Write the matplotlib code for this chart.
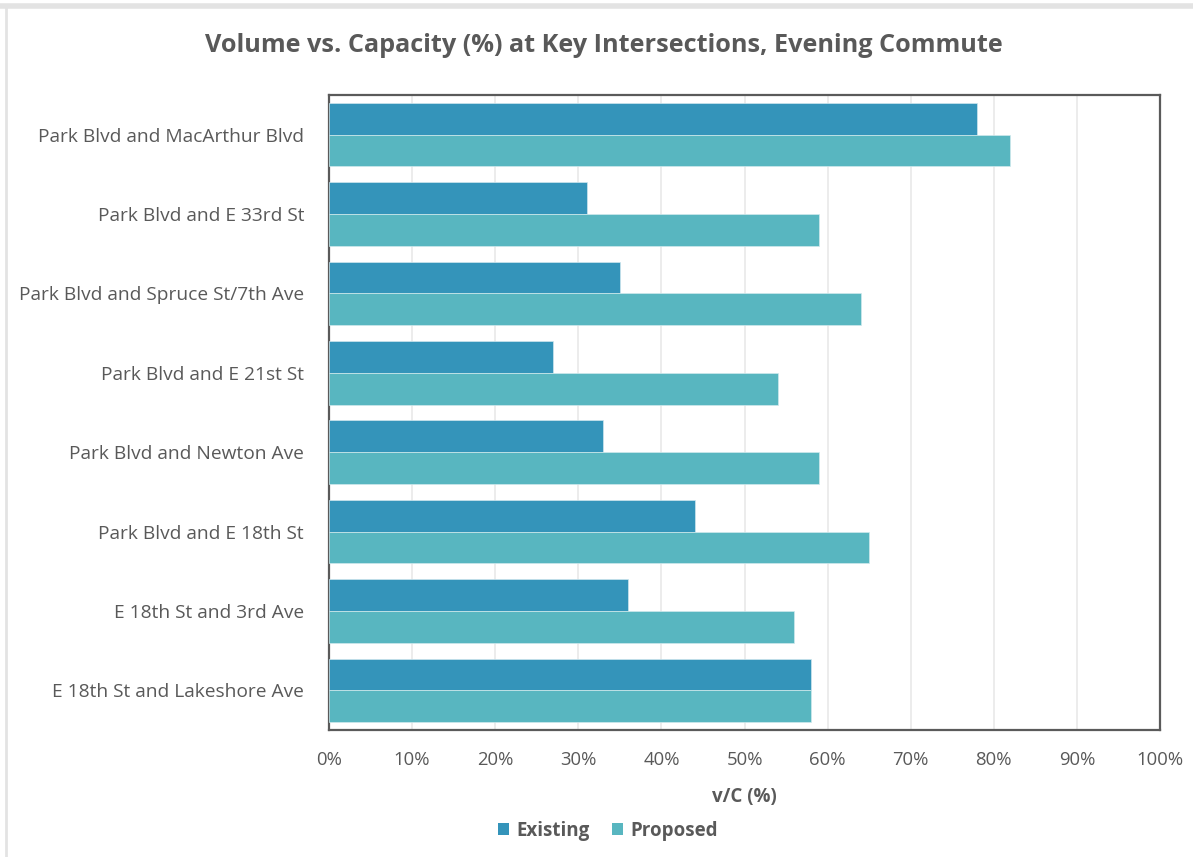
import matplotlib
matplotlib.use("Agg")
import matplotlib.pyplot as plt
from matplotlib.lines import Line2D
from matplotlib.patches import Patch
import numpy as np

categories = [
    "Park Blvd and MacArthur Blvd",
    "Park Blvd and E 33rd St",
    "Park Blvd and Spruce St/7th Ave",
    "Park Blvd and E 21st St",
    "Park Blvd and Newton Ave",
    "Park Blvd and E 18th St",
    "E 18th St and 3rd Ave",
    "E 18th St and Lakeshore Ave",
]
existing = [78, 31, 35, 27, 33, 44, 36, 58]
proposed = [82, 59, 64, 54, 59, 65, 56, 58]
xticks = [0, 10, 20, 30, 40, 50, 60, 70, 80, 90, 100]
xtick_labels = [f"{t}%" for t in xticks]

c_exist = "#3494BA"
c_prop = "#58B6C0"
text_c = "#595959"

plt.rcParams["font.family"] = ["Open Sans", "DejaVu Sans"]

fig = plt.figure(figsize=(11.93, 8.57), dpi=100)
ax = fig.add_axes([329 / 1193, 1 - 730 / 857, (1160 - 329) / 1193, (730 - 95) / 857])

y = np.arange(len(categories))
h = 0.4
ax.barh(y - h / 2, existing, height=h, color=c_exist, edgecolor="#CFE6EE",
        linewidth=0.5, zorder=3, label="Existing")
ax.barh(y + h / 2, proposed, height=h, color=c_prop, edgecolor="#CFE9EC",
        linewidth=0.5, zorder=3, label="Proposed")

ax.set_xlim(0, 100)
ax.set_ylim(len(categories) - 0.5, -0.5)
ax.set_xticks(xticks)
ax.set_xticklabels(xtick_labels, color=text_c, fontsize=13.3)
ax.set_yticks(y)
ax.set_yticklabels(categories, color=text_c, fontsize=13.8)
ax.tick_params(axis="both", length=0)
ax.tick_params(axis="x", pad=15)
ax.tick_params(axis="y", pad=18)
ax.grid(axis="x", color="#E9E9E9", linewidth=1.2, zorder=0)
ax.set_axisbelow(True)
for s in ax.spines.values():
    s.set_color("#5A5A5A")
    s.set_linewidth(1.6)

ax.set_xlabel("v/C (%)", color=text_c, fontsize=13.5, fontweight="bold", labelpad=13)

fig.text(604 / 1193, 1 - 46 / 857,
         "Volume vs. Capacity (%) at Key Intersections, Evening Commute",
         ha="center", va="center", fontsize=18.2, fontweight="bold", color=text_c)

handles = [Patch(facecolor=c_exist, edgecolor="none"), Patch(facecolor=c_prop, edgecolor="none")]
fig.legend(handles, ["Existing", "Proposed"], loc="center", ncol=2,
           bbox_to_anchor=(608 / 1193, 1 - 831 / 857), frameon=False,
           prop={"size": 13.5, "weight": "bold"}, labelcolor=text_c,
           handlelength=0.6, handleheight=0.6, handletextpad=0.4, columnspacing=1.2)

# outer chart frame edges
fig.add_artist(Line2D([0, 1], [1 - 6 / 857, 1 - 6 / 857], transform=fig.transFigure,
                      color="#E3E3E3", linewidth=4))
fig.add_artist(Line2D([6.5 / 1193, 6.5 / 1193], [0, 1 - 6 / 857], transform=fig.transFigure,
                      color="#E3E3E3", linewidth=2))

fig.savefig("out.png", dpi=100, facecolor="white")
